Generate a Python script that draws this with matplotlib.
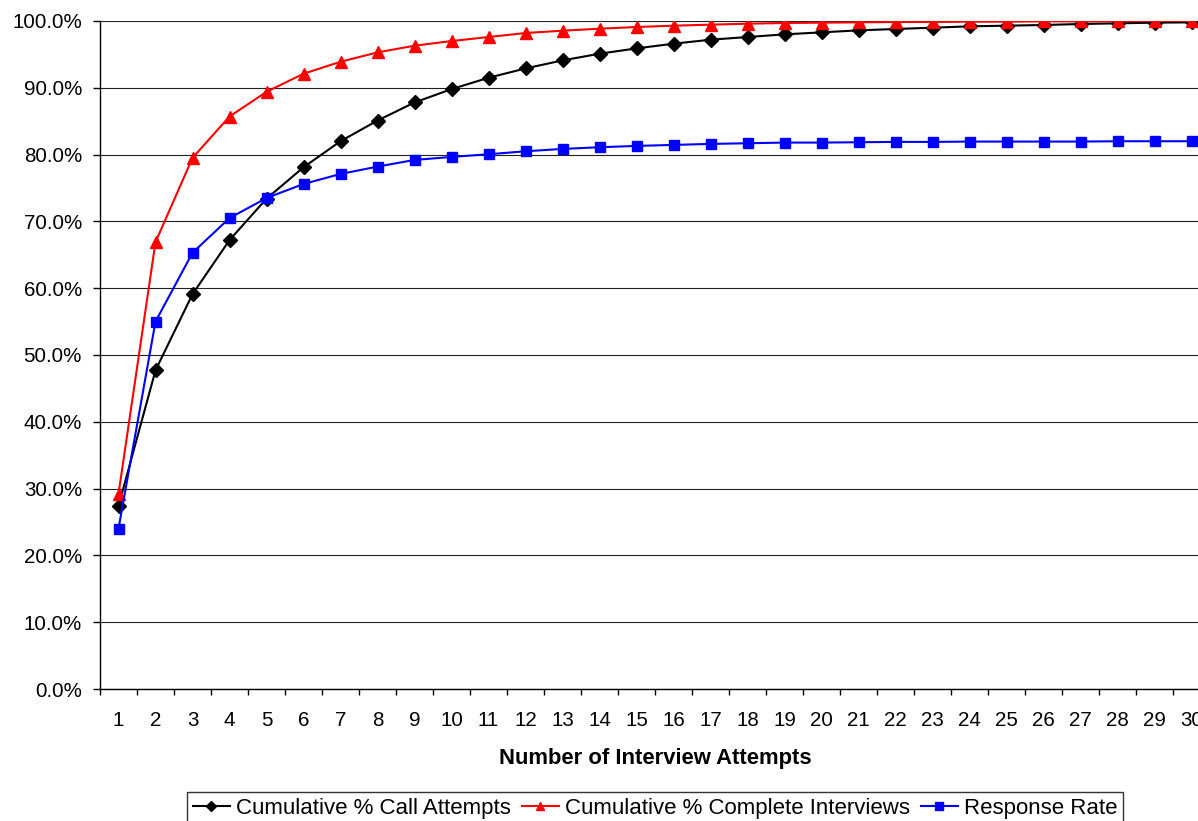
#!/usr/bin/env python3
"""
Cumulative call attempts / completes / response rate by number of attempts.
"""
import matplotlib
matplotlib.use("Agg")
import matplotlib.pyplot as plt
import matplotlib.ticker as mticker

attempts = list(range(1, 31))

cum_call_attempts = [27.4, 47.7, 59.1, 67.2, 73.4, 78.1, 82.0, 85.1, 87.8, 89.8,
                     91.5, 92.9, 94.1, 95.1, 95.9, 96.6, 97.2, 97.6, 98.0, 98.3,
                     98.6, 98.8, 99.0, 99.2, 99.3, 99.4, 99.55, 99.65, 99.75, 99.8]
cum_complete = [29.2, 66.9, 79.5, 85.7, 89.4, 92.1, 93.9, 95.3, 96.3, 97.0,
                97.6, 98.2, 98.55, 98.85, 99.1, 99.3, 99.45, 99.6, 99.7, 99.75,
                99.8, 99.85, 99.85, 99.9, 99.9, 99.95, 99.95, 99.95, 100.0, 100.0]
response_rate = [24.0, 55.0, 65.3, 70.5, 73.5, 75.6, 77.1, 78.2, 79.2, 79.65,
                 80.05, 80.5, 80.85, 81.1, 81.3, 81.45, 81.6, 81.7, 81.8, 81.8,
                 81.85, 81.9, 81.9, 81.95, 81.95, 81.95, 81.95, 82.0, 82.0, 82.0]

plt.rcParams["font.family"] = ["Liberation Sans", "DejaVu Sans"]
FS = 14.8

W, H = 1198, 821
fig = plt.figure(figsize=(W / 100, H / 100), dpi=100)
left, right, top, bottom = 100, 1210, 21, 689
ax = fig.add_axes([left / W, 1 - bottom / H, (right - left) / W, (bottom - top) / H])

ax.plot(attempts, cum_call_attempts, color="black", marker="D", markersize=7,
        linewidth=1.5, label="Cumulative % Call Attempts", zorder=3)
ax.plot(attempts, cum_complete, color="#FF0000", marker="^", markersize=9,
        linewidth=1.5, label="Cumulative % Complete Interviews", zorder=3)
ax.plot(attempts, response_rate, color="#0000FF", marker="s", markersize=7.5,
        linewidth=1.5, label="Response Rate", zorder=3)

ax.set_xlim(0.5, 30.5)
ax.set_ylim(0, 100)
ax.yaxis.set_major_locator(mticker.MultipleLocator(10))
ax.yaxis.set_major_formatter(mticker.FuncFormatter(lambda v, _: f"{v:.1f}%"))
ax.grid(axis="y", color="#202020", linewidth=0.8, zorder=0)

ax.set_xticks(attempts)
ax.set_xticks([a + 0.5 for a in range(0, 31)], minor=True)
ax.tick_params(axis="x", which="major", length=0, pad=15.5, labelsize=FS)
ax.tick_params(axis="x", which="minor", length=4.5, width=1, direction="out")
ax.tick_params(axis="y", length=5, width=1, direction="out", labelsize=FS, pad=8)

for side in ("top", "right"):
    ax.spines[side].set_visible(False)
for side in ("left", "bottom"):
    ax.spines[side].set_linewidth(1)

ax.set_xlabel("Number of Interview Attempts", fontsize=15.8, fontweight="bold")
ax.xaxis.set_label_coords(0.5, -0.089)

leg = fig.legend(loc="upper center", bbox_to_anchor=(655 / W, 1 - 792 / H), ncol=3,
                 fontsize=16, frameon=True, fancybox=False, edgecolor="black",
                 handlelength=1.67, handletextpad=0.27, columnspacing=0.5,
                 markerscale=0.7, borderpad=0.27, borderaxespad=0)
leg.get_frame().set_linewidth(1)

fig.savefig("out.png", dpi=100)
